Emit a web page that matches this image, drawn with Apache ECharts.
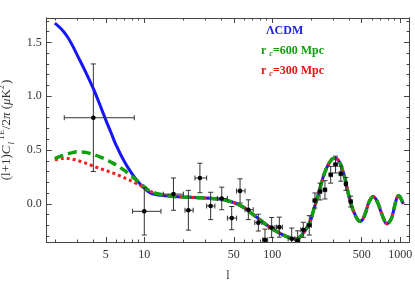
<!DOCTYPE html>
<html><head><meta charset="utf-8">
<script src="https://cdn.jsdelivr.net/npm/echarts@6/dist/echarts.min.js"></script>
<style>html,body{margin:0;padding:0;background:#fff}#c{width:415px;height:283px}</style>
</head><body><div id="c"></div>
<script>
// multipoles for the low-l part where models differ
const ellLow = [2, 2.25, 2.5, 2.75, 3, 3.5, 4, 4.5, 5, 5.5, 6, 7, 8, 9, 10, 11, 12, 14];
const lcdmLow = [1.68, 1.625, 1.555, 1.47, 1.38, 1.22, 1.07, 0.92, 0.78, 0.66, 0.55, 0.39, 0.28, 0.2, 0.146, 0.105, 0.088, 0.076];
const rc600Low = [0.42, 0.445, 0.463, 0.476, 0.483, 0.478, 0.458, 0.437, 0.413, 0.387, 0.362, 0.31, 0.255, 0.205, 0.158, 0.12, 0.1, 0.083];
const rc300Low = [0.41, 0.42, 0.422, 0.415, 0.403, 0.377, 0.35, 0.328, 0.31, 0.292, 0.275, 0.242, 0.21, 0.18, 0.152, 0.12, 0.1, 0.083];
// shared high-l part
const ellHigh = [17,20,25,30,35,40,45,50,55,61,70,80,90,100,115,130,150,160,170,185,200,210,222,236,250,265,282,300,315,338,355,370,385,404,425,443,460,480,500,514,540,562,590,615,640,673,700,736,765,791,820,857,900,937,965,990,1020,1055];
const clHigh = [0.068,0.063,0.058,0.053,0.048,0.043,0.028,0.012,-0.01,-0.04,-0.095,-0.148,-0.195,-0.235,-0.275,-0.305,-0.328,-0.32,-0.29,-0.23,-0.15,-0.06,0.035,0.145,0.25,0.33,0.39,0.42,0.42,0.38,0.31,0.235,0.14,0.035,-0.05,-0.1,-0.14,-0.163,-0.155,-0.135,-0.07,0.0,0.05,0.068,0.05,0.0,-0.06,-0.13,-0.175,-0.186,-0.17,-0.13,-0.03,0.05,0.075,0.07,0.04,0.0];
// data points
const dataL  = [4, 10, 16.9, 22.1, 27.2, 33.0, 40.3, 48.2, 56.0, 65.0, 77.8, 87.7, 98.9, 113.5, 141.9, 157.8, 174.6, 194.6, 215.5, 236, 258, 286, 312, 343, 376, 410];
const dataV  = [0.80, -0.07, 0.09, -0.06, 0.24, -0.02, 0.05, -0.133, 0.12, -0.055, -0.175, -0.335, -0.22, -0.217, -0.325, -0.341, -0.242, -0.2, 0.031, 0.114, 0.13, 0.27, 0.365, 0.28, 0.185, 0.021];
const dataE  = [0.50, 0.22, 0.15, 0.185, 0.137, 0.127, 0.105, 0.108, 0.112, 0.092, 0.078, 0.1, 0.093, 0.093, 0.1, 0.09, 0.07, 0.09, 0.07, 0.078, 0.085, 0.078, 0.078, 0.07, 0.06, 0.05];
const dataLo = [2.37, 8.1, 14.1, 20.8, 24.9, 30.7, 37.2, 44.6, 52.6, 61.3, 73, 84, 94, 108, 133, 152, 167, 187, 208, 229, 250, 278, 303, 333, 366, 400];
const dataHi = [8.35, 13.5, 20.2, 24.1, 30.7, 35.6, 44.6, 52.6, 61.3, 71, 83, 92, 105, 120, 150, 164, 182, 202, 223, 243, 266, 295, 321, 353, 386, 420];
// ticks
const xMajor = [5, 10, 50, 100, 500, 1000];
const xMinor = [2,3,4,6,7,8,9,20,30,40,60,70,80,90,200,300,400,600,700,800,900];
const yMajor = [0, 0.5, 1.0, 1.5];
const yMinor = [-0.3,-0.2,-0.1,0.1,0.2,0.3,0.4,0.6,0.7,0.8,0.9,1.1,1.2,1.3,1.4,1.6,1.7];

const pair = (xs, ys) => xs.map((x, i) => [x, ys[i]]);
const lcdm = pair(ellLow, lcdmLow).concat(pair(ellHigh, clHigh));
const rc600 = pair(ellLow, rc600Low).concat(pair(ellHigh, clHigh));
const rc300 = pair(ellLow, rc300Low).concat(pair(ellHigh, clHigh));
const pts = dataL.map((l, i) => [l, dataV[i], dataE[i], dataLo[i], dataHi[i]]);

const FONT = '"Liberation Serif", "DejaVu Serif", serif';
const AX = '#444';
const XMIN = 1.728, XMAX = 1170, YMIN = -0.355, YMAX = 1.727;

function xAx(pos, vals, len, labels) {
  return {
    type: 'log', logBase: 10, min: XMIN, max: XMAX, position: pos,
    axisLine: { show: true, onZero: false, lineStyle: { color: AX, width: 1 } },
    axisTick: { show: true, inside: true, length: len, customValues: vals, lineStyle: { color: AX } },
    axisLabel: labels ? { show: true, customValues: vals, formatter: v => String(Math.round(v)), color: '#333', fontFamily: FONT, fontSize: 12, margin: 7 } : { show: false },
    splitLine: { show: false }, minorTick: { show: false }
  };
}
function yAx(pos, vals, len, labels) {
  return {
    type: 'value', min: YMIN, max: YMAX, position: pos,
    axisLine: { show: true, onZero: false, lineStyle: { color: AX, width: 1 } },
    axisTick: { show: true, inside: true, length: len, customValues: vals, lineStyle: { color: AX } },
    axisLabel: labels ? { show: true, customValues: vals, formatter: v => v.toFixed(1), color: '#333', fontFamily: FONT, fontSize: 12, margin: 5 } : { show: false },
    splitLine: { show: false }
  };
}
const xa0 = xAx('bottom', xMajor, 5, true);
xa0.name = 'l'; xa0.nameLocation = 'middle'; xa0.nameGap = 28;
xa0.nameTextStyle = { fontFamily: FONT, fontSize: 12, color: '#333' };
const ya0 = yAx('left', yMajor, 5, true);
ya0.name = '{a|(l+1)}{i|C}{s|l}{p|TE}{a|/2}{i|π}{a| (}{i|μ}{a|K}{p|2}{a|)}';
ya0.nameLocation = 'middle'; ya0.nameGap = 27; ya0.nameRotate = 90;
ya0.nameTextStyle = {
  fontFamily: FONT, fontSize: 13, color: '#333',
  rich: {
    a: { fontFamily: FONT, fontSize: 13, color: '#333', lineHeight: 18 },
    i: { fontFamily: FONT, fontSize: 13, fontStyle: 'italic', color: '#333', lineHeight: 18 },
    s: { fontFamily: FONT, fontSize: 9, fontStyle: 'italic', color: '#333', verticalAlign: 'bottom', lineHeight: 18, padding: [6, 2, 0, 1] },
    p: { fontFamily: FONT, fontSize: 8, color: '#333', verticalAlign: 'top', lineHeight: 18, padding: [0, 1, 7, 0] }
  }
};

const chart = echarts.init(document.getElementById('c'), null, { renderer: 'canvas' });
chart.setOption({
  animation: false,
  backgroundColor: '#fff',
  grid: { left: 46.7, right: 6, top: 18, bottom: 41, containLabel: false, outerBoundsMode: 'none' },
  xAxis: [xa0, xAx('bottom', xMinor, 2.5, false), xAx('top', xMajor, 5, false), xAx('top', xMinor, 2.5, false)],
  yAxis: [ya0, yAx('left', yMinor, 2.5, false), yAx('right', yMajor, 5, false), yAx('right', yMinor, 2.5, false)],
  graphic: [
    { type: 'text', left: 266, top: 25, z: 100, style: { text: 'ΛCDM', fill: '#2222ee', font: 'bold 12px ' + FONT } },
    { type: 'text', left: 261, top: 45, z: 100, style: {
      text: '{r|r }{c|c}{t|=600 Mpc}',
      rich: {
        r: { fill: '#11a011', font: 'bold 12px ' + FONT },
        c: { fill: '#11a011', font: 'italic bold 8px ' + FONT, padding: [5, 0, 0, 0] },
        t: { fill: '#11a011', font: 'bold 12px ' + FONT }
      } } },
    { type: 'text', left: 261, top: 65, z: 100, style: {
      text: '{r|r }{c|c}{t|=300 Mpc}',
      rich: {
        r: { fill: '#ee1111', font: 'bold 12px ' + FONT },
        c: { fill: '#ee1111', font: 'italic bold 8px ' + FONT, padding: [5, 0, 0, 0] },
        t: { fill: '#ee1111', font: 'bold 12px ' + FONT }
      } } }
  ],
  series: [
    { name: 'ΛCDM', type: 'line', data: lcdm, showSymbol: false, smooth: 0.3, clip: true,
      lineStyle: { color: '#1515ff', width: 3 }, z: 2 },
    { name: 'rc300', type: 'line', data: rc300, showSymbol: false, smooth: 0.3, clip: true,
      lineStyle: { color: '#ff1a1a', width: 3, type: [3, 3] }, z: 3 },
    { name: 'rc600', type: 'line', data: rc600, showSymbol: false, smooth: 0.3, clip: true,
      lineStyle: { color: '#10a010', width: 3.5, type: [9, 5] }, z: 4 },
    { name: 'data', type: 'custom', data: pts, clip: true, z: 5,
      encode: { x: 0, y: 1 },
      renderItem: function (params, api) {
        const l = api.value(0), v = api.value(1), e = api.value(2), lo = api.value(3), hi = api.value(4);
        const c = api.coord([l, v]);
        const t = api.coord([l, v + e]);
        const b = api.coord([l, v - e]);
        const L = api.coord([lo, v]);
        const R = api.coord([hi, v]);
        const st = { stroke: '#333', lineWidth: 1, fill: null };
        const cap = 2.5;
        return { type: 'group', children: [
          { type: 'line', shape: { x1: c[0], y1: t[1], x2: c[0], y2: b[1] }, style: st },
          { type: 'line', shape: { x1: c[0] - cap, y1: t[1], x2: c[0] + cap, y2: t[1] }, style: st },
          { type: 'line', shape: { x1: c[0] - cap, y1: b[1], x2: c[0] + cap, y2: b[1] }, style: st },
          { type: 'line', shape: { x1: L[0], y1: c[1], x2: R[0], y2: c[1] }, style: st },
          { type: 'line', shape: { x1: L[0], y1: c[1] - cap, x2: L[0], y2: c[1] + cap }, style: st },
          { type: 'line', shape: { x1: R[0], y1: c[1] - cap, x2: R[0], y2: c[1] + cap }, style: st },
          { type: 'circle', shape: { cx: c[0], cy: c[1], r: 2.3 }, style: { fill: '#000' } }
        ] };
      }
    }
  ]
});
</script></body></html>
